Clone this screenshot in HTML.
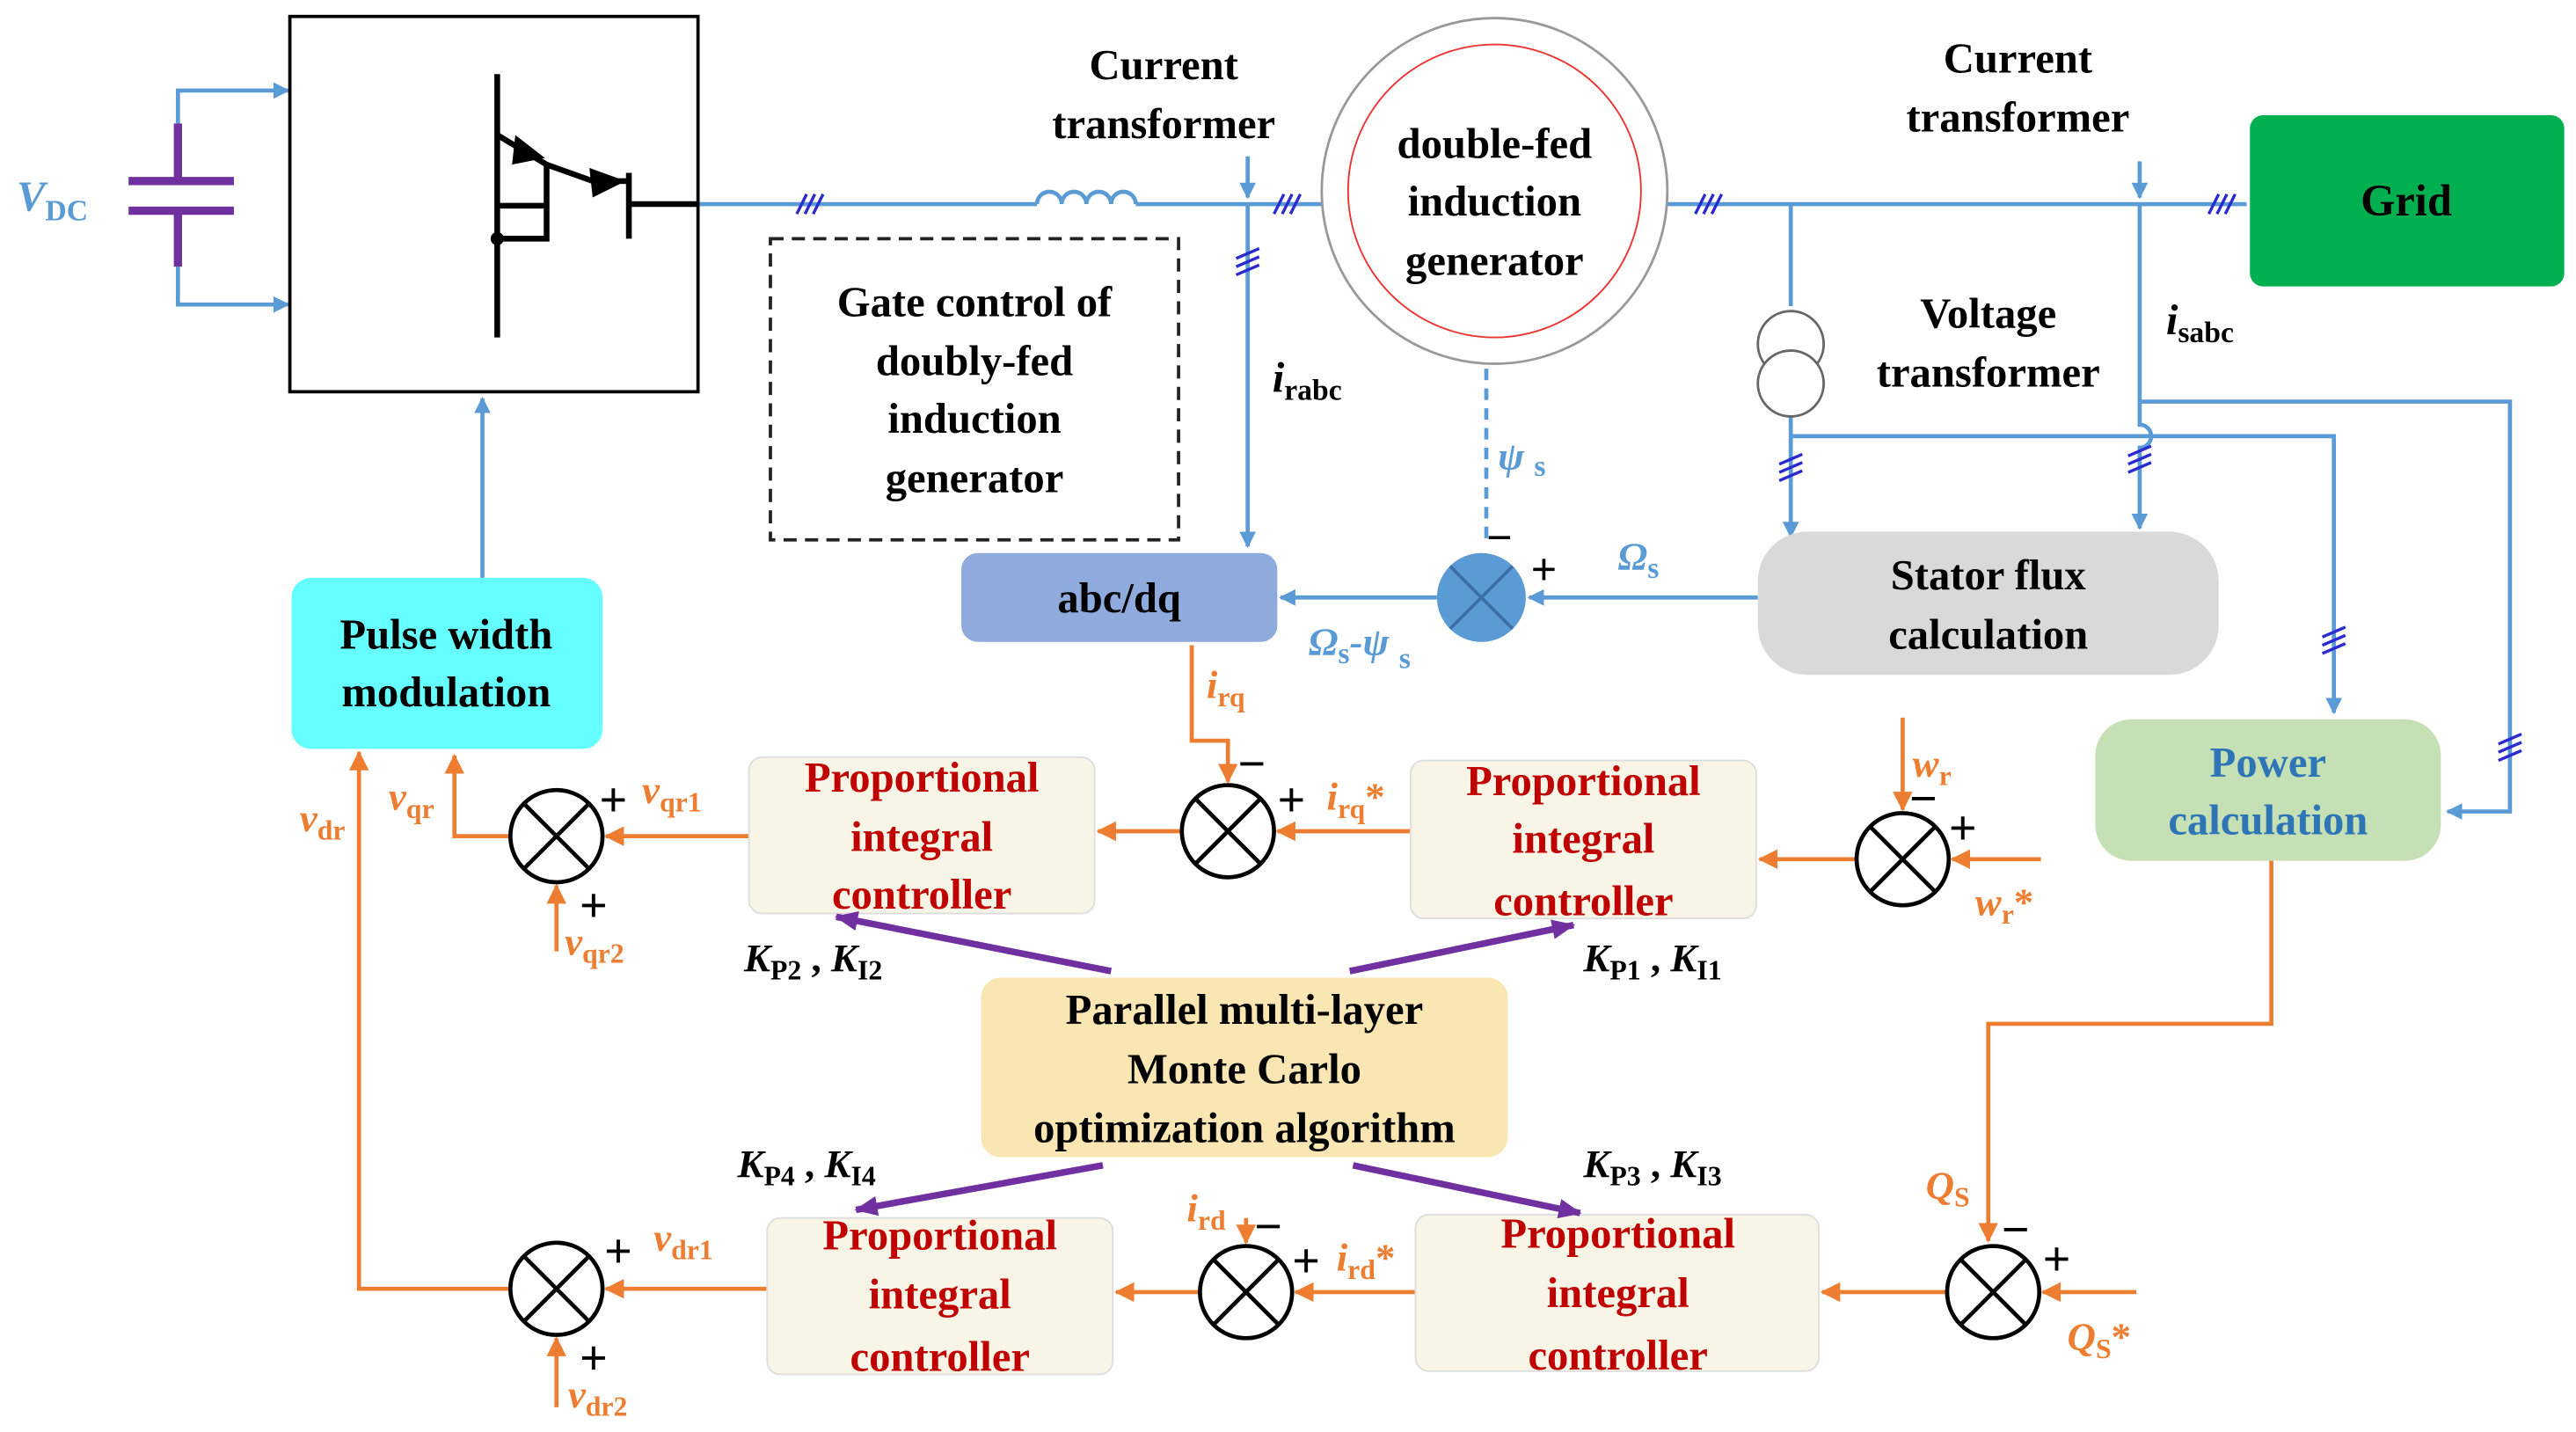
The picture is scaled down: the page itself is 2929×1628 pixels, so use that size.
<!DOCTYPE html>
<html><head><meta charset="utf-8"><style>
html,body{margin:0;padding:0;background:#fff;}
svg{display:block;}
text{font-family:"Liberation Serif","DejaVu Serif","Times New Roman",serif;font-weight:bold;}
</style></head><body>
<svg width="2929" height="1628" viewBox="0 0 1565 870" xmlns="http://www.w3.org/2000/svg">
<defs>
<marker id="ab" markerWidth="10" markerHeight="10" refX="9" refY="5" orient="auto" markerUnits="userSpaceOnUse"><path d="M0,0 L10,5 L0,10 z" fill="#5b9bd5"/></marker>
<marker id="ao" markerWidth="12" markerHeight="12" refX="11" refY="6" orient="auto" markerUnits="userSpaceOnUse"><path d="M0,0 L12,6 L0,12 z" fill="#ed7d31"/></marker>
<marker id="ap" markerWidth="14" markerHeight="12" refX="13" refY="6" orient="auto" markerUnits="userSpaceOnUse"><path d="M0,0 L14,6 L0,12 z" fill="#7030a0"/></marker>
</defs>
<g stroke="#5b9bd5" stroke-width="2.5" fill="none">
<path d="M108,75 V55 H175" marker-end="url(#ab)"/>
<path d="M108,162 V185 H175" marker-end="url(#ab)"/>
<path d="M424,124 H630 M690,124 H1365"/>
<path d="M630,124 a7.5,7.5 0 0 1 15,0 a7.5,7.5 0 0 1 15,0 a7.5,7.5 0 0 1 15,0 a7.5,7.5 0 0 1 15,0"/>
<path d="M758,95 V120" marker-end="url(#ab)"/>
<path d="M1300,98 V120" marker-end="url(#ab)"/>
<path d="M758,124 V332" marker-end="url(#ab)"/>
<path d="M903,212 V330" stroke-dasharray="7,5"/>
<path d="M873,363 H778" marker-end="url(#ab)"/>
<path d="M1068,363 H929" marker-end="url(#ab)"/>
<path d="M1088,124 V186"/>
<path d="M1088,252 V326" marker-end="url(#ab)"/>
<path d="M1300,124 V258 a7,7 0 0 1 0,14 V321" marker-end="url(#ab)"/>
<path d="M1088,265 H1418 V433" marker-end="url(#ab)"/>
<path d="M1300,244 H1525 V493 H1487" marker-end="url(#ab)"/>
<path d="M293,351 V242" marker-end="url(#ab)"/>
</g>
<g stroke="#2a2ad0" stroke-width="1.8">
<path d="M484,130 l6,-12 M489,130 l6,-12 M494,130 l6,-12"/>
<path d="M774,130 l6,-12 M779,130 l6,-12 M784,130 l6,-12"/>
<path d="M1030,130 l6,-12 M1035,130 l6,-12 M1040,130 l6,-12"/>
<path d="M1342,130 l6,-12 M1347,130 l6,-12 M1352,130 l6,-12"/>
<path d="M751,157 l14,-6 M751,162 l14,-6 M751,167 l14,-6"/>
<path d="M1081,282 l14,-6 M1081,287 l14,-6 M1081,292 l14,-6"/>
<path d="M1293,277 l14,-6 M1293,282 l14,-6 M1293,287 l14,-6"/>
<path d="M1411,387 l14,-6 M1411,392 l14,-6 M1411,397 l14,-6"/>
<path d="M1518,452 l14,-6 M1518,457 l14,-6 M1518,462 l14,-6"/>
</g>
<g stroke="#7030a0" stroke-width="5"><path d="M108,75 V110 M108,128 V162 M78,110 H142 M78,128 H142"/></g>
<text x="10" y="128" font-size="26" fill="#5b9bd5" font-style="italic" font-weight="normal">V<tspan font-size="18" dy="6" font-style="normal" font-weight="bold">DC</tspan></text>
<rect x="176" y="10" width="248" height="228" fill="#fff" stroke="#000" stroke-width="2"/>
<g stroke="#000" stroke-width="3.5" fill="none">
<path d="M302,45 V205"/>
<path d="M302,82 L332,100 V145 H302"/>
<path d="M332,100 L360,110"/>
<path d="M382,105 V145 M382,124 H424"/>
<path d="M302,125 H332"/>
<path d="M360,110 L382,110"/>
</g>
<path d="M313,82 l18,14 l-20,4z" fill="#000"/>
<path d="M358,102 l22,8 l-20,10z" fill="#000"/>
<circle cx="302" cy="145" r="4" fill="#000"/>
<text x="707" y="48" font-size="26" text-anchor="middle">Current</text>
<text x="707" y="84" font-size="26" text-anchor="middle">transformer</text>
<text x="1226" y="44" font-size="26" text-anchor="middle">Current</text>
<text x="1226" y="80" font-size="26" text-anchor="middle">transformer</text>
<circle cx="908" cy="116" r="105" fill="#fff" stroke="#999" stroke-width="1.5"/>
<circle cx="908" cy="116" r="89" fill="#fff" stroke="#e33" stroke-width="1"/>
<text x="908" y="96" font-size="26" text-anchor="middle">double-fed</text>
<text x="908" y="131" font-size="26" text-anchor="middle">induction</text>
<text x="908" y="167" font-size="26" text-anchor="middle">generator</text>
<rect x="1367" y="70" width="191" height="104" rx="8" fill="#00b050"/>
<text x="1462" y="131" font-size="27" text-anchor="middle">Grid</text>
<rect x="468" y="145" width="248" height="183" fill="none" stroke="#222" stroke-width="2" stroke-dasharray="8,5"/>
<text x="592" y="192" font-size="26" text-anchor="middle">Gate control of</text>
<text x="592" y="228" font-size="26" text-anchor="middle">doubly-fed</text>
<text x="592" y="263" font-size="26" text-anchor="middle">induction</text>
<text x="592" y="299" font-size="26" text-anchor="middle">generator</text>
<text x="773" y="238" font-size="26" font-style="italic">i<tspan font-size="18" dy="5" font-style="normal">rabc</tspan></text>
<rect x="584" y="336" width="192" height="54" rx="10" fill="#8faadc"/>
<text x="680" y="372" font-size="26" text-anchor="middle">abc/dq</text>
<circle cx="900" cy="363" r="27" fill="#5b9bd5"/>
<path d="M881,344 L919,382 M919,344 L881,382" stroke="#3a6fa8" stroke-width="2"/>
<text x="903" y="336" font-size="28">−</text>
<text x="930" y="355" font-size="28" font-weight="normal">+</text>
<text x="910" y="285" font-size="24" fill="#5b9bd5" font-style="italic">ψ<tspan font-size="18" dx="6" dy="4" font-style="normal">s</tspan></text>
<text x="983" y="346" font-size="24" fill="#5b9bd5" font-style="italic">Ω<tspan font-size="18" dy="5" font-style="normal">s</tspan></text>
<text x="795" y="398" font-size="24" fill="#5b9bd5" font-style="italic">Ω<tspan font-size="18" dy="5" font-style="normal">s</tspan><tspan dy="-5">-ψ</tspan><tspan font-size="18" dx="6" dy="8" font-style="normal">s</tspan></text>
<circle cx="1088" cy="209" r="20" fill="#fff" stroke="#666" stroke-width="1.5"/>
<circle cx="1088" cy="233" r="20" fill="#fff" stroke="#666" stroke-width="1.5"/>
<text x="1208" y="199" font-size="26" text-anchor="middle">Voltage</text>
<text x="1208" y="235" font-size="26" text-anchor="middle">transformer</text>
<text x="1316" y="203" font-size="26" font-style="italic">i<tspan font-size="18" dy="5" font-style="normal">sabc</tspan></text>
<rect x="1068" y="323" width="280" height="87" rx="30" fill="#d9d9d9"/>
<text x="1208" y="358" font-size="26" text-anchor="middle">Stator flux</text>
<text x="1208" y="394" font-size="26" text-anchor="middle">calculation</text>
<rect x="1273" y="437" width="210" height="86" rx="22" fill="#c5e0b4"/>
<text x="1378" y="472" font-size="26" text-anchor="middle" fill="#2e75b6">Power</text>
<text x="1378" y="507" font-size="26" text-anchor="middle" fill="#2e75b6">calculation</text>
<rect x="177" y="351" width="189" height="104" rx="12" fill="#66ffff"/>
<text x="271" y="394" font-size="26" text-anchor="middle">Pulse width</text>
<text x="271" y="429" font-size="26" text-anchor="middle">modulation</text>
<g stroke="#ed7d31" stroke-width="2.5" fill="none">
<path d="M1380,523 V622 H1208 V754" marker-end="url(#ao)"/>
<path d="M1298,785 H1241" marker-end="url(#ao)"/>
<path d="M1183,785 H1107" marker-end="url(#ao)"/>
<path d="M860,785 H787" marker-end="url(#ao)"/>
<path d="M757,740 V755" marker-end="url(#ao)"/>
<path d="M729,785 H678" marker-end="url(#ao)"/>
<path d="M466,783 H368" marker-end="url(#ao)"/>
<path d="M338,855 V813" marker-end="url(#ao)"/>
<path d="M310,783 H218 V457" marker-end="url(#ao)"/>
<path d="M1156,436 V492" marker-end="url(#ao)"/>
<path d="M1240,522 H1186" marker-end="url(#ao)"/>
<path d="M1128,522 H1069" marker-end="url(#ao)"/>
<path d="M857,505 H776" marker-end="url(#ao)"/>
<path d="M724,392 V450 H746 V475" marker-end="url(#ao)"/>
<path d="M718,505 H667" marker-end="url(#ao)"/>
<path d="M455,508 H368" marker-end="url(#ao)"/>
<path d="M338,578 V538" marker-end="url(#ao)"/>
<path d="M310,508 H276 V459" marker-end="url(#ao)"/>
</g>
<g stroke="#000" stroke-width="2.5" fill="#fff">
<circle cx="1211" cy="785" r="28"/><path d="M1191,765 L1231,805 M1231,765 L1191,805"/>
<circle cx="757" cy="785" r="28"/><path d="M737,765 L777,805 M777,765 L737,805"/>
<circle cx="338" cy="783" r="28"/><path d="M318,763 L358,803 M358,763 L318,803"/>
<circle cx="1156" cy="522" r="28"/><path d="M1136,502 L1176,542 M1176,502 L1136,542"/>
<circle cx="746" cy="505" r="28"/><path d="M726,485 L766,525 M766,485 L726,525"/>
<circle cx="338" cy="508" r="28"/><path d="M318,488 L358,528 M358,488 L318,528"/>
</g>
<g fill="#f8f5e6" stroke="#ddd" stroke-width="1">
<rect x="455" y="460" width="210" height="95" rx="8"/>
<rect x="857" y="462" width="210" height="96" rx="8"/>
<rect x="466" y="740" width="210" height="95" rx="8"/>
<rect x="860" y="738" width="245" height="95" rx="8"/>
</g>
<g font-size="26" fill="#c00000" text-anchor="middle">
<text x="560" y="481">Proportional</text><text x="560" y="517">integral</text><text x="560" y="552">controller</text>
<text x="962" y="483">Proportional</text><text x="962" y="518">integral</text><text x="962" y="556">controller</text>
<text x="571" y="759">Proportional</text><text x="571" y="795">integral</text><text x="571" y="833">controller</text>
<text x="983" y="758">Proportional</text><text x="983" y="794">integral</text><text x="983" y="832">controller</text>
</g>
<rect x="596" y="594" width="320" height="109" rx="12" fill="#f9e6b3"/>
<text x="756" y="622" font-size="26" text-anchor="middle">Parallel multi-layer</text>
<text x="756" y="658" font-size="26" text-anchor="middle">Monte Carlo</text>
<text x="756" y="694" font-size="26" text-anchor="middle">optimization algorithm</text>
<g stroke="#7030a0" stroke-width="4">
<path d="M675,590 L508,557" marker-end="url(#ap)"/>
<path d="M820,590 L956,562" marker-end="url(#ap)"/>
<path d="M670,708 L520,735" marker-end="url(#ap)"/>
<path d="M822,708 L960,737" marker-end="url(#ap)"/>
</g>
<g font-size="24" font-style="italic">
<text x="452" y="590">K<tspan font-size="17" dy="5" font-style="normal">P2</tspan><tspan dy="-5" font-style="normal"> , </tspan>K<tspan font-size="17" dy="5" font-style="normal">I2</tspan></text>
<text x="962" y="590">K<tspan font-size="17" dy="5" font-style="normal">P1</tspan><tspan dy="-5" font-style="normal"> , </tspan>K<tspan font-size="17" dy="5" font-style="normal">I1</tspan></text>
<text x="448" y="715">K<tspan font-size="17" dy="5" font-style="normal">P4</tspan><tspan dy="-5" font-style="normal"> , </tspan>K<tspan font-size="17" dy="5" font-style="normal">I4</tspan></text>
<text x="962" y="715">K<tspan font-size="17" dy="5" font-style="normal">P3</tspan><tspan dy="-5" font-style="normal"> , </tspan>K<tspan font-size="17" dy="5" font-style="normal">I3</tspan></text>
</g>
<g font-size="24" fill="#ed7d31" font-style="italic">
<text x="733" y="424">i<tspan font-size="17" dy="5" font-style="normal">rq</tspan></text>
<text x="806" y="492">i<tspan font-size="17" dy="5" font-style="normal">rq</tspan><tspan dy="-5" font-style="normal">*</tspan></text>
<text x="1162" y="472">w<tspan font-size="17" dy="5" font-style="normal">r</tspan></text>
<text x="1200" y="556">w<tspan font-size="17" dy="5" font-style="normal">r</tspan><tspan dy="-5" font-style="normal">*</tspan></text>
<text x="390" y="488">v<tspan font-size="17" dy="5" font-style="normal">qr1</tspan></text>
<text x="343" y="580">v<tspan font-size="17" dy="5" font-style="normal">qr2</tspan></text>
<text x="236" y="492">v<tspan font-size="17" dy="5" font-style="normal">qr</tspan></text>
<text x="182" y="505">v<tspan font-size="17" dy="5" font-style="normal">dr</tspan></text>
<text x="721" y="742">i<tspan font-size="17" dy="5" font-style="normal">rd</tspan></text>
<text x="812" y="772">i<tspan font-size="17" dy="5" font-style="normal">rd</tspan><tspan dy="-5" font-style="normal">*</tspan></text>
<text x="397" y="760">v<tspan font-size="17" dy="5" font-style="normal">dr1</tspan></text>
<text x="345" y="855">v<tspan font-size="17" dy="5" font-style="normal">dr2</tspan></text>
<text x="1170" y="728">Q<tspan font-size="17" dy="5" font-style="normal">S</tspan></text>
<text x="1256" y="820">Q<tspan font-size="17" dy="5" font-style="normal">S</tspan><tspan dy="-5" font-style="normal">*</tspan></text>
</g>
<g font-size="30" font-weight="normal">
<text x="752" y="474">−</text><text x="776" y="496">+</text>
<text x="1160" y="495">−</text><text x="1184" y="513">+</text>
<text x="364" y="496">+</text><text x="352" y="560">+</text>
<text x="762" y="755">−</text><text x="785" y="776">+</text>
<text x="1216" y="757">−</text><text x="1241" y="775">+</text>
<text x="367" y="770">+</text><text x="352" y="835">+</text>
</g>
</svg>
</body></html>
